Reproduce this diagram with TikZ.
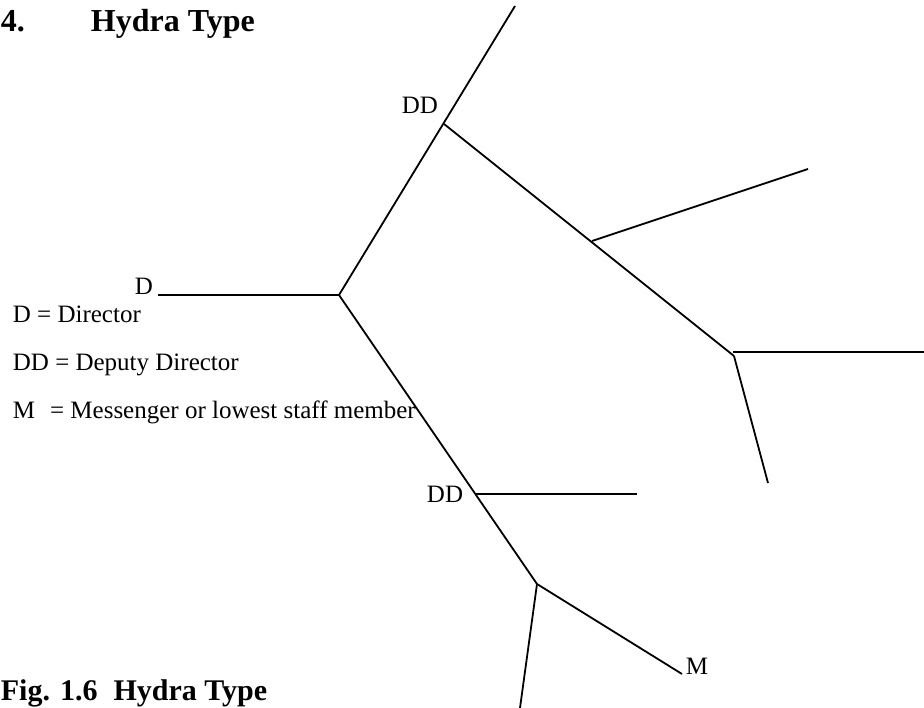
\documentclass[tikz,border=0pt]{standalone}
\usepackage{fontspec}
\setmainfont{Liberation Serif}
\usetikzlibrary{positioning}

\tikzset{
  lbl/.style={font=\fontsize{25}{30}\selectfont, inner sep=0pt},
  legend/.style={lbl, anchor=base west},
  heading/.style={font=\bfseries\fontsize{32}{38}\selectfont, inner sep=0pt, anchor=base west}
}

\begin{document}
\begin{tikzpicture}[x=1pt,y=-1pt,line width=1.8pt]
   \useasboundingbox (0,0) rectangle (924,708);
   % headings
   \node [heading] (num) at (0,32) {4.};
   \node [heading] (title) at (90,32) {Hydra Type};
   \node [heading, font=\bfseries\fontsize{30}{36}\selectfont] (caption) at (0,700) {Fig. 1.6\hspace{16pt}Hydra Type};
   % legend
   \node [legend] (keyd) at (12,323) {D = Director};
   \node [legend] (keydd) at (12,371) {DD = Deputy Director};
   \node [legend] (keym) at (12,419) {M\hspace{15pt}= Messenger or lowest staff member};
   % labels on the tree
   \node [lbl] (d) at (144,286) {D};
   \node [lbl] (dd_1) at (420,105) {DD};
   \node [lbl] (dd_2) at (445,494) {DD};
   \node [lbl] (m) at (697,666) {M};
   % junctions and ends
   \coordinate (d_end) at (158,295);
   \coordinate (hub) at (339,295);
   \coordinate (top) at (515,6);
   \coordinate (up_1) at (444,124);
   \coordinate (up_2) at (592,241);
   \coordinate (up_2_end) at (808,169);
   \coordinate (fork) at (734,356);
   \coordinate (fork_h) at (733,352);
   \coordinate (fork_e) at (924,352);
   \coordinate (fork_s) at (768,483);
   \coordinate (low_1) at (476,494);
   \coordinate (low_1_end) at (637,494);
   \coordinate (low_2) at (537,584);
   \coordinate (bottom) at (520,708);
   \coordinate (m_end) at (682,674);
    \path[draw]
    (d_end) edge (hub)
    (hub) edge (top)
          edge (low_2)
    (up_1) edge (fork)
    (up_2) edge (up_2_end)
    (fork_h) edge (fork_e)
    (fork) edge (fork_s)
    (low_1) edge (low_1_end)
    (low_2) edge (bottom)
            edge (m_end);
\end{tikzpicture}
\end{document}
